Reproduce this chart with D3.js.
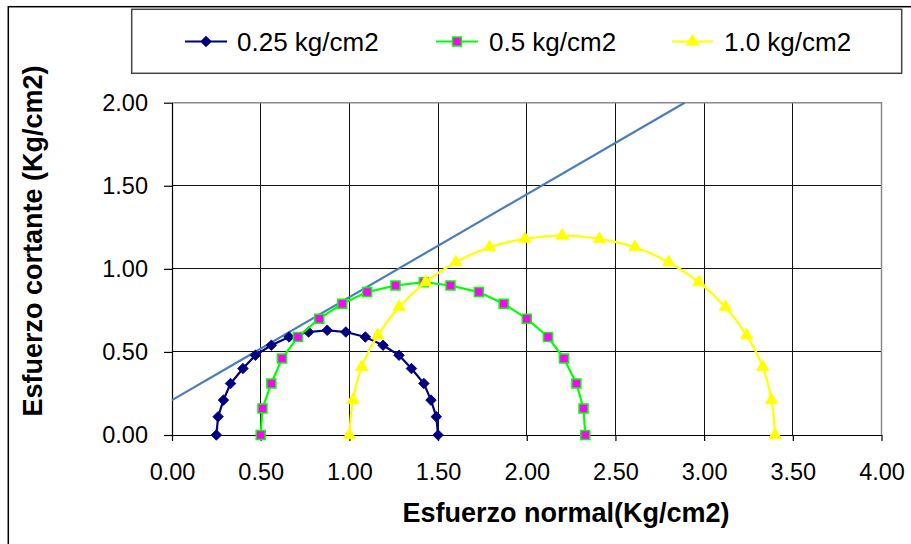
<!DOCTYPE html>
<html>
<head>
<meta charset="utf-8">
<script src="https://cdn.jsdelivr.net/npm/d3@7"></script>
<style>
  html, body { margin: 0; padding: 0; background: #fff; }
  svg { display: block; font-family: "Liberation Sans", Arial, sans-serif; }
</style>
</head>
<body>
<svg id="chart" width="911" height="544"></svg>
<script>
// ---- Data ----
const seriesNames = ["0.25 kg/cm2", "0.5 kg/cm2", "1.0 kg/cm2"];

const s1X = [0.25, 0.26, 0.29, 0.33, 0.40, 0.47, 0.56, 0.66, 0.77, 0.875, 0.98, 1.09, 1.19, 1.28, 1.35, 1.42, 1.46, 1.49, 1.50];
const s1Y = [0.00, 0.11, 0.21, 0.31, 0.40, 0.48, 0.54, 0.59, 0.62, 0.63, 0.62, 0.59, 0.54, 0.48, 0.40, 0.31, 0.21, 0.11, 0.00];

const s2X = [0.50, 0.51, 0.56, 0.62, 0.71, 0.83, 0.96, 1.10, 1.26, 1.42, 1.57, 1.73, 1.87, 2.00, 2.12, 2.21, 2.28, 2.32, 2.33];
const s2Y = [0.00, 0.16, 0.31, 0.46, 0.59, 0.70, 0.79, 0.86, 0.90, 0.92, 0.90, 0.86, 0.79, 0.70, 0.59, 0.46, 0.31, 0.16, 0.00];

const s3X = [1.00, 1.02, 1.07, 1.16, 1.28, 1.43, 1.60, 1.79, 1.99, 2.20, 2.41, 2.61, 2.80, 2.97, 3.12, 3.24, 3.33, 3.38, 3.40];
const s3Y = [0.00, 0.21, 0.41, 0.60, 0.77, 0.92, 1.04, 1.13, 1.18, 1.20, 1.18, 1.13, 1.04, 0.92, 0.77, 0.60, 0.41, 0.21, 0.00];

const envelopeX = [0.00, 2.89];
const envelopeY = [0.21, 2.00];

const xTicks = [0, 0.5, 1, 1.5, 2, 2.5, 3, 3.5, 4];
const yTicks = [0, 0.5, 1, 1.5, 2];

const xTitle = "Esfuerzo normal(Kg/cm2)";
const yTitle = "Esfuerzo cortante (Kg/cm2)";

// ---- Layout ----
const svg = d3.select("#chart");
const plot = { left: 172, right: 881.5, top: 102.7, bottom: 435 };

const x = d3.scaleLinear().domain([0, 4]).range([plot.left, plot.right]);
const y = d3.scaleLinear().domain([0, 2]).range([plot.bottom, plot.top]);

svg.append("rect").attr("width", 911).attr("height", 544).attr("fill", "#fff");

// chart frame (top and left visible)
svg.append("rect")
  .attr("x", 8.3).attr("y", 6.7).attr("width", 1000).attr("height", 1000)
  .attr("fill", "none").attr("stroke", "#000").attr("stroke-width", 1.5);

// gridlines
const grid = svg.append("g").attr("shape-rendering", "crispEdges");
grid.selectAll("line.v").data(xTicks).join("line")
  .attr("x1", d => x(d)).attr("x2", d => x(d))
  .attr("y1", plot.top).attr("y2", plot.bottom)
  .attr("stroke", "#111").attr("stroke-width", 1);
grid.selectAll("line.h").data(yTicks).join("line")
  .attr("x1", plot.left).attr("x2", plot.right)
  .attr("y1", d => y(d)).attr("y2", d => y(d))
  .attr("stroke", "#111").attr("stroke-width", 1);

// plot border top & right grey
svg.append("path")
  .attr("d", `M${plot.left},${plot.top}H${plot.right}V${plot.bottom}`)
  .attr("fill", "none").attr("stroke", "#8a8a8a").attr("stroke-width", 1.5);

// axes
const fmt = d3.format(".2f");
const xAxis = svg.append("g").attr("transform", `translate(0,${plot.bottom})`)
  .call(d3.axisBottom(x).tickValues(xTicks).tickFormat(fmt).tickSize(6).tickSizeOuter(0).tickPadding(24));
const yAxis = svg.append("g").attr("transform", `translate(${plot.left},0)`)
  .call(d3.axisLeft(y).tickValues(yTicks).tickFormat(fmt).tickSize(8).tickSizeOuter(0).tickPadding(16));
[xAxis, yAxis].forEach(a => {
  a.select(".domain").attr("stroke", "#000").attr("stroke-width", 1.2);
  a.selectAll(".tick line").attr("stroke", "#000").attr("stroke-width", 1.2);
  a.selectAll(".tick text")
    .attr("font-family", "'Liberation Sans', Arial, sans-serif")
    .attr("font-size", 23.5).attr("fill", "#000");
});
xAxis.selectAll(".tick text").attr("dy", "0.71em").attr("y", 28);

// axis titles
svg.append("text")
  .attr("x", 566).attr("y", 521.7)
  .attr("text-anchor", "middle")
  .attr("font-size", 27).attr("font-weight", "bold")
  .text(xTitle);
svg.append("text")
  .attr("transform", "translate(41.5,241) rotate(-90)")
  .attr("text-anchor", "middle")
  .attr("font-size", 27).attr("font-weight", "bold")
  .text(yTitle);

// envelope line
const envelope = envelopeX.map((v, i) => ({ x: v, y: envelopeY[i] }));
svg.append("path")
  .datum(envelope)
  .attr("d", d3.line().x(d => x(d.x)).y(d => y(d.y)))
  .attr("fill", "none").attr("stroke", "#4a7ebb").attr("stroke-width", 2.2);

// series
const series = [
  { name: seriesNames[0], xs: s1X, ys: s1Y, line: "#000080", curve: d3.curveLinear,
    symbol: d3.symbolSquare, size: 56, rotate: 45, fill: "#000080", stroke: "#000080", sw: 0.8 },
  { name: seriesNames[1], xs: s2X, ys: s2Y, line: "#00ff00", curve: d3.curveLinear,
    symbol: d3.symbolSquare, size: 81, rotate: 0, fill: "#ff00ff", stroke: "#00ff00", sw: 1.5 },
  { name: seriesNames[2], xs: s3X, ys: s3Y, line: "#ffff00", curve: d3.curveCatmullRom,
    symbol: d3.symbolTriangle, size: 68, rotate: 0, fill: "#ffff00", stroke: "#ffff00", sw: 0.8 }
];

series.forEach(s => {
  const pts = s.xs.map((v, i) => ({ x: v, y: s.ys[i] }));
  const g = svg.append("g");
  g.append("path").datum(pts)
    .attr("d", d3.line().curve(s.curve).x(d => x(d.x)).y(d => y(d.y)))
    .attr("fill", "none").attr("stroke", s.line).attr("stroke-width", 2.2);
  g.selectAll("path.m").data(pts).join("path")
    .attr("class", "m")
    .attr("d", d3.symbol().type(s.symbol).size(s.size))
    .attr("transform", d => `translate(${x(d.x)},${y(d.y)}) rotate(${s.rotate})`)
    .attr("fill", s.fill).attr("stroke", s.stroke).attr("stroke-width", s.sw);
});

// legend
const legend = svg.append("g");
legend.append("rect")
  .attr("x", 131.7).attr("y", 9.3).attr("width", 770).attr("height", 64)
  .attr("fill", "#fff").attr("stroke", "#444").attr("stroke-width", 1.5);
const legendPos = [{ x1: 185, x2: 227, tx: 237 }, { x1: 436, x2: 478, tx: 489 }, { x1: 672, x2: 713, tx: 724 }];
series.forEach((s, i) => {
  const p = legendPos[i];
  const ly = 41.5;
  legend.append("line").attr("x1", p.x1).attr("x2", p.x2).attr("y1", ly).attr("y2", ly)
    .attr("stroke", s.line).attr("stroke-width", 2.2);
  legend.append("path")
    .attr("d", d3.symbol().type(s.symbol).size(s.size))
    .attr("transform", `translate(${(p.x1 + p.x2) / 2},${ly}) rotate(${s.rotate})`)
    .attr("fill", s.fill).attr("stroke", s.stroke).attr("stroke-width", s.sw);
  legend.append("text").attr("x", p.tx).attr("y", ly).attr("dy", "0.35em")
    .attr("font-size", 26).attr("fill", "#000").text(s.name);
});
</script>
</body>
</html>
